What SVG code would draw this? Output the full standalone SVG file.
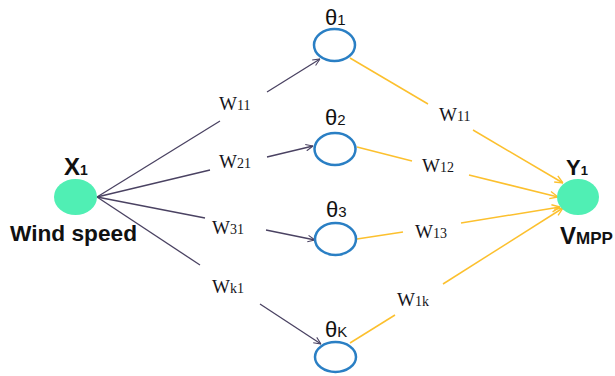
<svg xmlns="http://www.w3.org/2000/svg" width="615" height="376" viewBox="0 0 615 376">
<defs>
<style>
.io{fill:#50efb4;stroke:none}
.hid{fill:#fff;stroke:#2a7fc4;stroke-width:2.5}
.in{stroke:#4a4262;stroke-width:1.3;fill:none}
.out{stroke:#fcc02e;stroke-width:1.5;fill:none}
.w{font-family:"Liberation Serif",serif;fill:#151520}
.w .b{font-size:19px}
.w .s{font-size:14px}
.th{font-family:"Liberation Sans",sans-serif;fill:#111}
.th .g{font-size:22px}
.th .s{font-size:15px}
.bold{font-family:"Liberation Sans",sans-serif;font-weight:bold;fill:#111}
</style>
<marker id="ai" viewBox="0 0 10 10" refX="10" refY="5" markerWidth="8" markerHeight="8" orient="auto" markerUnits="userSpaceOnUse">
<path d="M1,1 L10,5 L1,9" fill="none" stroke="#4a4262" stroke-width="1.3"/>
</marker>
<marker id="ao" viewBox="0 0 10 10" refX="10" refY="5" markerWidth="9" markerHeight="9" orient="auto" markerUnits="userSpaceOnUse">
<path d="M1,1 L10,5 L1,9" fill="none" stroke="#fcc02e" stroke-width="1.5"/>
</marker>
</defs>
<rect width="615" height="376" fill="#fff"/>
<g id="connectors">
<line class="in" x1="97" y1="197" x2="220" y2="121"/>
<line class="in" x1="267" y1="92" x2="320" y2="59" marker-end="url(#ai)"/>
<line class="in" x1="97" y1="197" x2="210" y2="170"/>
<line class="in" x1="267" y1="157" x2="313" y2="146" marker-end="url(#ai)"/>
<line class="in" x1="97" y1="197" x2="205" y2="218"/>
<line class="in" x1="266" y1="230" x2="315" y2="240" marker-end="url(#ai)"/>
<line class="in" x1="97" y1="197" x2="200" y2="265"/>
<line class="in" x1="260" y1="304" x2="321" y2="344" marker-end="url(#ai)"/>
<line class="out" x1="350" y1="58" x2="428" y2="104"/>
<line class="out" x1="473" y1="130" x2="563" y2="183" marker-end="url(#ao)"/>
<line class="out" x1="357" y1="147" x2="412" y2="161"/>
<line class="out" x1="469" y1="175" x2="558" y2="197" marker-end="url(#ao)"/>
<line class="out" x1="357" y1="239" x2="403" y2="232"/>
<line class="out" x1="461" y1="223" x2="560" y2="207" marker-end="url(#ao)"/>
<line class="out" x1="350" y1="343" x2="395" y2="315"/>
<line class="out" x1="443" y1="284" x2="563" y2="208" marker-end="url(#ao)"/>
<g class="w">
<text x="219" y="110"><tspan class="b">W</tspan><tspan class="s">11</tspan></text>
<text x="219" y="168"><tspan class="b">W</tspan><tspan class="s">21</tspan></text>
<text x="212" y="234"><tspan class="b">W</tspan><tspan class="s">31</tspan></text>
<text x="212" y="293"><tspan class="b">W</tspan><tspan class="s">k1</tspan></text>
<text x="439" y="121"><tspan class="b">W</tspan><tspan class="s">11</tspan></text>
<text x="422" y="172"><tspan class="b">W</tspan><tspan class="s">12</tspan></text>
<text x="415" y="238"><tspan class="b">W</tspan><tspan class="s">13</tspan></text>
<text x="397" y="306"><tspan class="b">W</tspan><tspan class="s">1k</tspan></text>
</g>
</g>
<g id="x1">
<ellipse class="io" cx="75.5" cy="197" rx="21.5" ry="18"/>
<text class="bold" x="64" y="175"><tspan font-size="24">X</tspan><tspan font-size="14">1</tspan></text>
<text class="bold" x="10" y="241" font-size="22" textLength="127" lengthAdjust="spacingAndGlyphs">Wind speed</text>
</g>
<g id="h1">
<ellipse class="hid" cx="334.5" cy="45" rx="20.5" ry="16"/>
<text class="th" x="325" y="25"><tspan class="g">θ</tspan><tspan class="s">1</tspan></text>
</g>
<g id="h2">
<ellipse class="hid" cx="335" cy="149" rx="20.5" ry="16"/>
<text class="th" x="325" y="125"><tspan class="g">θ</tspan><tspan class="s">2</tspan></text>
</g>
<g id="h3">
<ellipse class="hid" cx="335.5" cy="239" rx="20.5" ry="16"/>
<text class="th" x="326" y="217"><tspan class="g">θ</tspan><tspan class="s">3</tspan></text>
</g>
<g id="hk">
<ellipse class="hid" cx="335.5" cy="357" rx="20.5" ry="15"/>
<text class="th" x="325" y="337"><tspan class="g">θ</tspan><tspan class="s">K</tspan></text>
</g>
<g id="y1">
<ellipse class="io" cx="578" cy="197" rx="21" ry="18"/>
<text class="bold" x="566" y="175"><tspan font-size="22">Y</tspan><tspan font-size="13">1</tspan></text>
<text class="bold" x="560" y="244"><tspan font-size="24">V</tspan><tspan font-size="17">MPP</tspan></text>
</g>
</svg>
